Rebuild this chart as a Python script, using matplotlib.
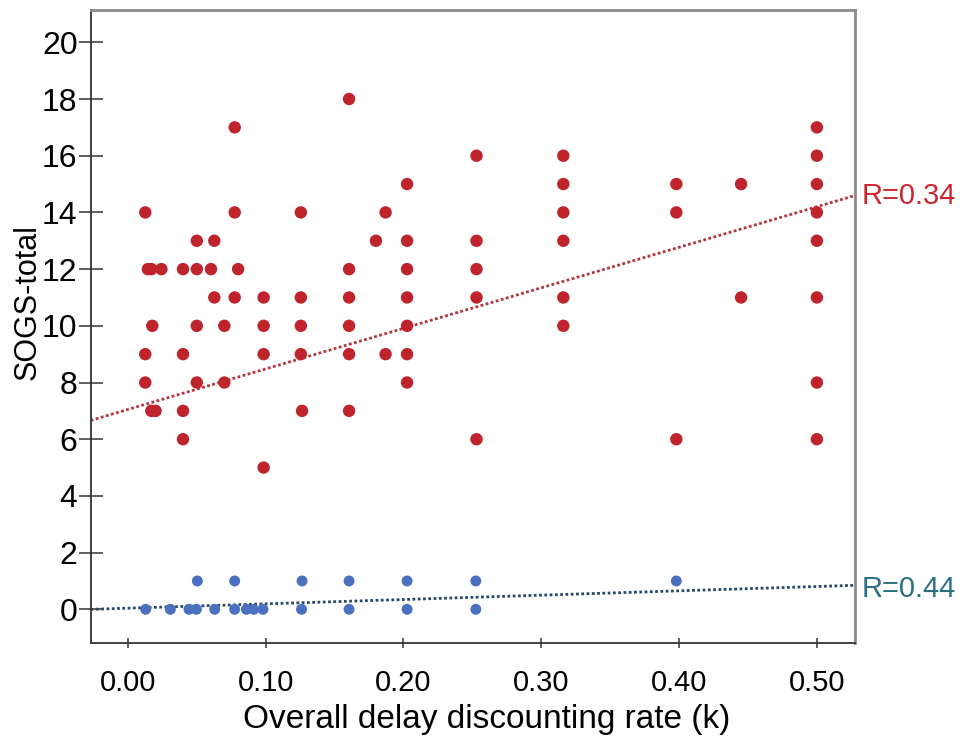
import matplotlib
matplotlib.use("Agg")
import matplotlib.pyplot as plt
import numpy as np

plt.rcParams["font.family"] = ["Liberation Sans", "DejaVu Sans"]

# red group (SOGS-total vs k)
red_k = [0.0126, 0.0126, 0.0126, 0.0145, 0.0170, 0.0243, 0.0177, 0.0170, 0.0201,
         0.040, 0.040, 0.040, 0.040, 0.050, 0.050, 0.050, 0.050, 0.0603,
         0.0627, 0.0627, 0.070, 0.070, 0.0775, 0.0775, 0.0775, 0.080,
         0.0985, 0.0985, 0.0985, 0.0985, 0.1255, 0.1255, 0.1255, 0.1255, 0.1264,
         0.1605, 0.1605, 0.1605, 0.1605, 0.1605, 0.1605, 0.180, 0.187, 0.187,
         0.2026, 0.2026, 0.2026, 0.2026, 0.2026, 0.2026, 0.2026,
         0.253, 0.253, 0.253, 0.253, 0.253,
         0.316, 0.316, 0.316, 0.316, 0.316, 0.316,
         0.398, 0.398, 0.398, 0.445, 0.445,
         0.500, 0.500, 0.500, 0.500, 0.500, 0.500, 0.500, 0.500]
red_sogs = [14, 9, 8, 12, 12, 12, 10, 7, 7,
            12, 9, 7, 6, 13, 12, 10, 8, 12,
            13, 11, 10, 8, 17, 14, 11, 12,
            11, 10, 9, 5, 14, 11, 10, 9, 7,
            18, 12, 11, 10, 9, 7, 13, 14, 9,
            15, 13, 12, 11, 10, 9, 8,
            16, 13, 12, 11, 6,
            16, 15, 14, 13, 11, 10,
            15, 14, 6, 15, 11,
            17, 16, 15, 14, 13, 11, 8, 6]

# blue group
blue_k = [0.0129, 0.0308, 0.0443, 0.0497, 0.063, 0.0775, 0.086, 0.0913, 0.098,
          0.126, 0.1605, 0.2026, 0.2525,
          0.0504, 0.0775, 0.1264, 0.1605, 0.2026, 0.2525, 0.398]
blue_sogs = [0, 0, 0, 0, 0, 0, 0, 0, 0,
             0, 0, 0, 0,
             1, 1, 1, 1, 1, 1, 1]

# fit lines as drawn (intercept, slope)
red_fit = (7.05, 14.3)
blue_fit = (0.04, 1.53)
red_label = "R=0.34"
blue_label = "R=0.44"

xticks = [0.0, 0.1, 0.2, 0.3, 0.4, 0.5]
yticks = list(range(0, 21, 2))

fig = plt.figure(figsize=(9.68, 7.46), dpi=100)
ax = fig.add_axes([0.0937, 0.138, 0.7896, 0.8486])
xlim = (-0.027, 0.5277)
ylim = (-1.19, 21.14)

xs = np.array(xlim)
ax.plot(xs, red_fit[0] + red_fit[1] * xs, color="#b5333a", lw=2.0,
        linestyle=(0, (1, 0.9)), zorder=2)
ax.plot(xs, blue_fit[0] + blue_fit[1] * xs, color="#2b4766", lw=2.0,
        linestyle=(0, (1, 0.9)), zorder=2)

ax.scatter(red_k, red_sogs, s=80, color="#bf232b", edgecolors="none", zorder=3)
ax.scatter(blue_k, blue_sogs, s=62, color="#4a70bf", edgecolors="none", zorder=3)

ax.set_xlim(*xlim)
ax.set_ylim(*ylim)
ax.set_xticks(xticks)
ax.set_xticklabels([f"{v:.2f}" for v in xticks])
ax.set_yticks(yticks)

ax.tick_params(axis="y", direction="inout", length=17, width=1.1,
               labelsize=23, pad=1, color="#333333")
ax.tick_params(axis="x", direction="inout", length=7, width=1.1,
               labelsize=21, pad=15, color="#333333")

for side in ("left", "bottom"):
    ax.spines[side].set_color("#333333")
    ax.spines[side].set_linewidth(1.3)
for side in ("top", "right"):
    ax.spines[side].set_color("#8a8a8a")
    ax.spines[side].set_linewidth(2.0)

ax.set_xlabel("Overall delay discounting rate (k)", fontsize=24, va="center")
ax.set_ylabel("SOGS-total", fontsize=22, va="center")
ax.xaxis.set_label_coords(0.518, -0.120)
ax.yaxis.set_label_coords(-0.082, 0.539)

ax.text(1.008, (red_fit[0] + red_fit[1] * xlim[1] - ylim[0]) / (ylim[1] - ylim[0]),
        red_label, transform=ax.transAxes, fontsize=21, color="#cc2630",
        va="center", ha="left")
ax.text(1.008, (blue_fit[0] + blue_fit[1] * xlim[1] - ylim[0]) / (ylim[1] - ylim[0]) - 0.006,
        blue_label, transform=ax.transAxes, fontsize=21, color="#2a6f80",
        va="center", ha="left")

fig.savefig("out.png", dpi=100)
